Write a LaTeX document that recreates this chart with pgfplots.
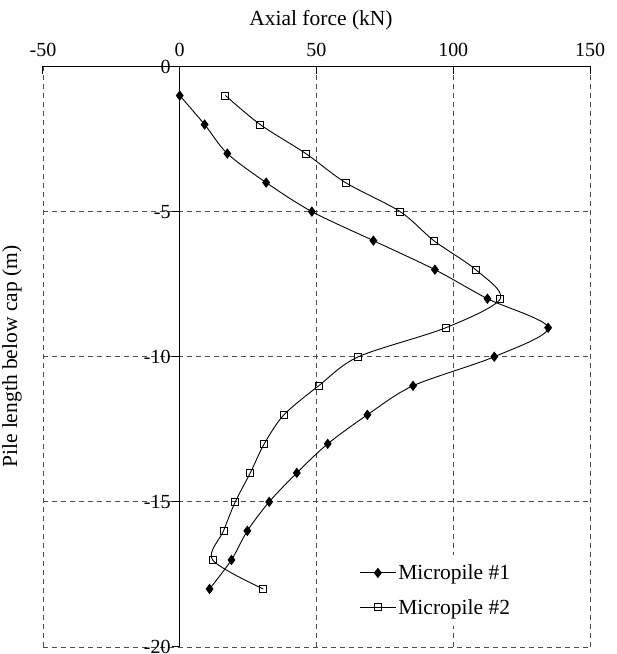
\documentclass[border=0pt]{standalone}
\usepackage{fontspec}
\setmainfont{Liberation Serif}
\usepackage{pgfplots}
\pgfplotsset{compat=1.18}

% axial force (kN) vs depth below cap (m)
\pgfplotstableread{
x y
0 -1
9.1 -2
17.4 -3
31.6 -4
48.3 -5
70.8 -6
93.3 -7
112.5 -8
134.7 -9
115 -10
85.3 -11
68.6 -12
54.1 -13
42.8 -14
32.7 -15
24.7 -16
18.9 -17
10.9 -18
}\pileone
\pgfplotstableread{
x y
16.7 -1
29.4 -2
46.1 -3
60.6 -4
80.6 -5
92.9 -6
108.2 -7
117.2 -8
97.3 -9
65.3 -10
50.8 -11
38.1 -12
30.9 -13
25.8 -14
20.3 -15
16 -16
12 -17
30.5 -18
}\piletwo

\begin{document}
\begin{tikzpicture}[font=\fontsize{21.5}{25}\selectfont]
\useasboundingbox (-43pt,-7pt) rectangle (574pt,647pt);
\begin{axis}[
    at={(0pt,0pt)}, anchor=south west,
    scale only axis,
    width=547pt,
    height=580.5pt,
    xmin=-50, xmax=150,
    ymin=-20, ymax=0,
    axis x line=top,
    axis y line=middle,
    axis line style={-, line width=1pt},
    hide obscured x ticks=false,
    hide obscured y ticks=false,
    xtick={-50,0,50,100,150},
    ytick={-20,-15,-10,-5,0},
    xtick align=inside,
    ytick align=outside,
    major tick length=8pt,
    tick style={black, line width=1pt},
    grid=major,
    grid style={black!70, line width=0.8pt, dash pattern=on 5pt off 4pt},
    /pgf/number format/assume math mode=true,
    ticklabel style={font=\fontsize{20}{24}\selectfont},
    yticklabel style={inner sep=1pt},
    xticklabel style={yshift=6pt},
    xlabel={Axial force (kN)},
    ylabel={Pile length below cap (m)},
    xlabel style={at={([xshift=4.5pt,yshift=41pt]rel axis cs:0.5,1)}, anchor=base},
    ylabel style={at={([xshift=-21pt]rel axis cs:0,0.5)}, anchor=south, rotate=90, inner sep=0pt},
    legend style={at={(rel axis cs:0.718,0.098)}, anchor=center, draw=none, fill=white,
        inner sep=8pt, row sep=14pt, font=\fontsize{21.5}{25}\selectfont},
    legend cell align=left,
    legend image code/.code={\draw[mark repeat=2,mark phase=2] plot coordinates {(0pt,0pt) (18pt,0pt) (36pt,0pt)};},
]
\addplot[black, line width=0.9pt, smooth, tension=0.5, mark=diamond*, mark size=4.5pt, mark options={solid, fill=black}] table {\pileone};
\addlegendentry{Micropile \#1}
\addplot[black, line width=0.9pt, smooth, tension=0.5, mark=square, mark size=3.5pt, mark options={solid, fill=white}] table {\piletwo};
\addlegendentry{Micropile \#2}
\end{axis}
\end{tikzpicture}
\end{document}
